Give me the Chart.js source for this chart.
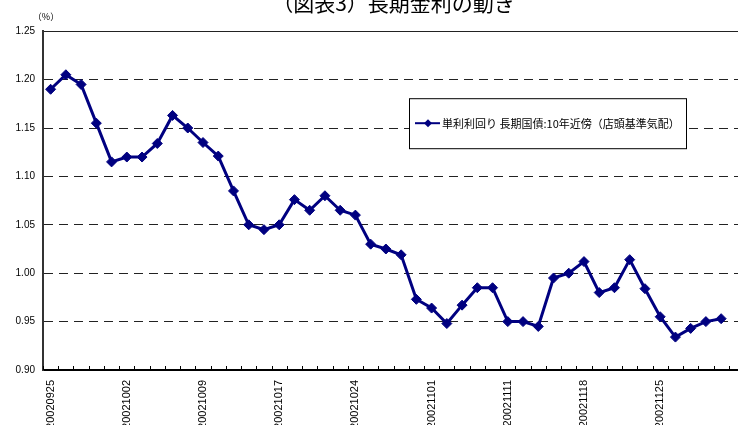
<!DOCTYPE html>
<html>
<head>
<meta charset="utf-8">
<script src="https://cdn.jsdelivr.net/npm/chart.js@4.4.1/dist/chart.umd.min.js"></script>
<style>
  html, body { margin: 0; padding: 0; background: #fff; overflow: hidden; width: 738px; height: 425px; }
  #wrap { position: absolute; left: 0; top: -14px; width: 760px; height: 460px; }
</style>
</head>
<body>
<div id="wrap"><canvas id="c" width="760" height="460"></canvas></div>
<script>
// Business days on the category axis (the last one closes the axis, no quote yet)
const dates = [
  '20020925','20020926','20020927','20020930','20021001',
  '20021002','20021003','20021004','20021007','20021008',
  '20021009','20021010','20021011','20021015','20021016',
  '20021017','20021018','20021021','20021022','20021023',
  '20021024','20021025','20021028','20021029','20021030',
  '20021101','20021105','20021106','20021107','20021108',
  '20021111','20021112','20021113','20021114','20021115',
  '20021118','20021119','20021120','20021121','20021122',
  '20021125','20021126','20021127','20021128','20021129',
  '20021202'
];

// 10-year JGB simple yield (%)
const yields = [
  1.190, 1.205, 1.195, 1.155, 1.115,
  1.120, 1.120, 1.134, 1.163, 1.150,
  1.135, 1.121, 1.085, 1.050, 1.045,
  1.050, 1.076, 1.065, 1.080, 1.065,
  1.060, 1.030, 1.025, 1.019, 0.973,
  0.964, 0.948, 0.967, 0.985, 0.985,
  0.950, 0.950, 0.945, 0.995, 1.000,
  1.012, 0.980, 0.985, 1.014, 0.984,
  0.955, 0.934, 0.943, 0.950, 0.953
];

const yMin = 0.90, yMax = 1.25, yStep = 0.05;
const labelEvery = 5;

const titleText = '（図表3）長期金利の動き';
const seriesName = '単利利回り 長期国債:10年近傍（店頭基準気配）';
const unitText = '（%）';

const NAVY = '#000080';

Chart.defaults.font.family = '"Liberation Sans", Arial, sans-serif';
Chart.defaults.color = '#000';

// Small tick marks pointing up into the plot at the category boundaries
const innerTicks = {
  id: 'innerTicks',
  afterDraw(chart) {
    const sx = chart.scales.x;
    const { ctx, chartArea: a } = chart;
    ctx.save();
    ctx.strokeStyle = '#000';
    ctx.lineWidth = 1;
    ctx.beginPath();
    for (let i = 0; i <= chart.data.labels.length; i++) {
      const px = Math.round(sx.getPixelForValue(i - 0.5)) + 0.5;
      ctx.moveTo(px, a.bottom - 4);
      ctx.lineTo(px, a.bottom);
    }
    ctx.stroke();
    // unit label above the value axis
    ctx.font = '9px "Noto Sans CJK JP"';
    ctx.fillStyle = '#000';
    ctx.textAlign = 'center';
    ctx.textBaseline = 'middle';
    ctx.fillText(unitText, a.left + 3, a.top - 15);
    ctx.restore();
  }
};

// Boxed legend inside the plot
const legendBox = {
  id: 'legendBox',
  beforeDatasetsDraw(chart) {
    const { ctx, chartArea: a } = chart;
    const ds = chart.data.datasets[0];
    const x = a.left + 366, y = a.top + 67, w = 277, h = 50;
    const cy = y + h / 2;
    ctx.save();
    ctx.fillStyle = '#fff';
    ctx.fillRect(x, y, w, h);
    ctx.strokeStyle = '#000';
    ctx.lineWidth = 1;
    ctx.strokeRect(x + 0.5, y + 0.5, w, h);
    ctx.strokeStyle = ds.borderColor;
    ctx.lineWidth = 2;
    ctx.beginPath();
    ctx.moveTo(x + 6, cy);
    ctx.lineTo(x + 31, cy);
    ctx.stroke();
    ctx.fillStyle = ds.borderColor;
    ctx.beginPath();
    ctx.moveTo(x + 19, cy - 4);
    ctx.lineTo(x + 23, cy);
    ctx.lineTo(x + 19, cy + 4);
    ctx.lineTo(x + 15, cy);
    ctx.closePath();
    ctx.fill();
    ctx.font = '11px "Noto Sans CJK JP"';
    ctx.fillStyle = '#000';
    ctx.textAlign = 'left';
    ctx.textBaseline = 'middle';
    ctx.fillText(ds.label, x + 33, cy + 1);
    ctx.restore();
  }
};

new Chart(document.getElementById('c'), {
  type: 'line',
  data: {
    labels: dates,
    datasets: [{
      label: seriesName,
      data: yields,
      borderColor: NAVY,
      backgroundColor: NAVY,
      borderWidth: 3,
      tension: 0,
      pointStyle: 'rectRot',
      pointRadius: 5,
      pointBackgroundColor: NAVY,
      pointBorderColor: NAVY,
      pointBorderWidth: 1,
      clip: false
    }]
  },
  options: {
    responsive: false,
    animation: false,
    events: [],
    layout: { padding: { left: 0, right: 16, top: 0, bottom: 0 } },
    plugins: {
      legend: { display: false },
      tooltip: { enabled: false },
      title: {
        display: true,
        text: titleText,
        fullSize: false,
        color: '#000',
        font: { family: '"Noto Sans CJK JP"', size: 21, weight: 'normal', lineHeight: 1.2 },
        padding: { top: 4, bottom: 16 }
      }
    },
    scales: {
      x: {
        type: 'category',
        offset: true,
        afterFit(scale) { scale.height = 76; },
        grid: { drawOnChartArea: false, drawTicks: false },
        border: { display: true, color: '#000', width: 2 },
        ticks: {
          autoSkip: false,
          maxRotation: 90,
          minRotation: 90,
          padding: 10,
          color: '#000',
          font: { size: 11 },
          callback(value, index) {
            return (index % labelEvery === 0 && index < yields.length) ? dates[index] : '';
          }
        }
      },
      y: {
        min: yMin,
        max: yMax,
        afterFit(scale) { scale.width = 43; },
        grid: { color: '#222', lineWidth: 1, drawTicks: false },
        border: {
          display: true,
          color: '#333',
          width: 2,
          dash(ctx) {
            return (ctx.tick && Math.abs(ctx.tick.value - yMax) < 1e-6) ? [] : [9, 6];
          }
        },
        ticks: {
          stepSize: yStep,
          padding: 8,
          color: '#000',
          font: { size: 10 },
          callback(v) { return Number(v).toFixed(2); }
        }
      }
    }
  },
  plugins: [legendBox, innerTicks]
});
</script>
</body>
</html>
